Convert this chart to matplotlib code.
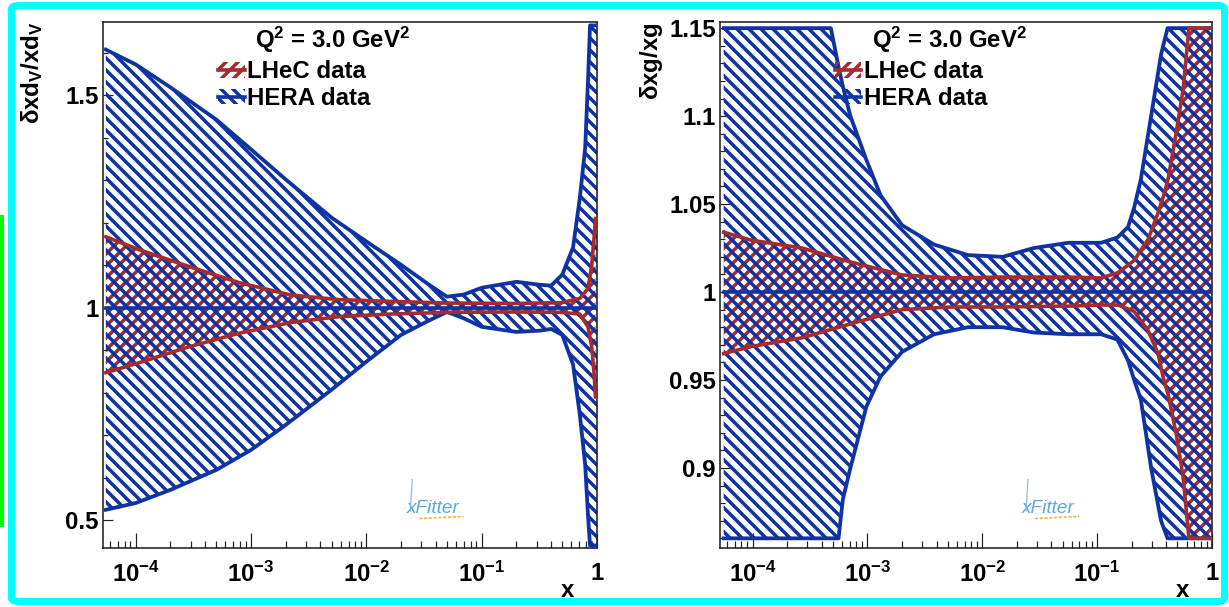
import numpy as np
import matplotlib
matplotlib.use("Agg")
import matplotlib.pyplot as plt
from matplotlib.patches import Patch, Rectangle, FancyBboxPatch
from matplotlib.lines import Line2D
from matplotlib.ticker import FixedLocator, FuncFormatter, MultipleLocator, NullFormatter, LogLocator

# ---------------------------------------------------------------- data
# valence d-quark relative uncertainty band, HERA fit
dv_x_hera = [5.5e-5, 1e-4, 2e-4, 5e-4, 1e-3, 2e-3, 5e-3, 1e-2, 2e-2, 3.5e-2, 5e-2,
             7e-2, 0.1, 0.2, 0.32, 0.4, 0.5, 0.62, 0.71, 0.79, 0.835, 0.87, 1.0]
dv_hera_up = [1.608, 1.573, 1.519, 1.443, 1.373, 1.302, 1.212, 1.156, 1.101, 1.054, 1.026,
              1.031, 1.047, 1.061, 1.054, 1.052, 1.078, 1.142, 1.259, 1.377, 1.533, 1.665, 1.665]
dv_hera_lo = [0.524, 0.540, 0.571, 0.618, 0.665, 0.724, 0.807, 0.873, 0.936, 0.970, 0.990,
              0.975, 0.955, 0.943, 0.946, 0.950, 0.936, 0.866, 0.748, 0.630, 0.512, 0.440, 0.440]

# valence d-quark relative uncertainty band, LHeC fit
dv_x_lhec = [5.5e-5, 1.06e-4, 2.9e-4, 7.9e-4, 2.2e-3, 5.8e-3, 1.6e-2, 5e-2, 0.2, 0.5,
             0.71, 0.835, 0.9, 0.94, 0.97]
dv_lhec_up = [1.167, 1.137, 1.097, 1.059, 1.030, 1.019, 1.015, 1.011, 1.010, 1.012,
              1.022, 1.045, 1.100, 1.160, 1.210]
dv_lhec_lo = [0.847, 0.870, 0.908, 0.940, 0.965, 0.979, 0.985, 0.989, 0.990, 0.989,
              0.985, 0.955, 0.908, 0.850, 0.790]

# gluon relative uncertainty band, HERA fit
g_x_hera = [5.6e-5, 4.8e-4, 5.6e-4, 6.1e-4, 7.1e-4, 9.8e-4, 1.3e-3, 2e-3, 3.8e-3, 7.5e-3,
            1.5e-2, 2.8e-2, 5.6e-2, 0.108, 0.15, 0.186, 0.21, 0.24, 0.295, 0.36, 0.41, 1.0]
g_hera_up = [1.150, 1.150, 1.128, 1.117, 1.100, 1.075, 1.055, 1.038, 1.027, 1.021,
             1.020, 1.025, 1.028, 1.028, 1.031, 1.037, 1.048, 1.064, 1.100, 1.135, 1.150, 1.150]
g_hera_lo = [0.860, 0.860, 0.860, 0.882, 0.900, 0.935, 0.952, 0.966, 0.976, 0.980,
             0.980, 0.977, 0.976, 0.976, 0.973, 0.961, 0.950, 0.939, 0.900, 0.870, 0.860, 0.860]

# gluon relative uncertainty band, LHeC fit
g_x_lhec = [5.6e-5, 9.7e-5, 2.7e-4, 7.2e-4, 2e-3, 5.4e-3, 1.46e-2, 5.6e-2, 0.108, 0.152,
            0.21, 0.278, 0.339, 0.38, 0.414, 0.486, 0.56, 0.63, 1.0]
g_lhec_up = [1.034, 1.0295, 1.025, 1.017, 1.0097, 1.008, 1.0085, 1.0085, 1.008, 1.011,
             1.018, 1.030, 1.045, 1.055, 1.064, 1.090, 1.115, 1.150, 1.150]
g_lhec_lo = [0.965, 0.969, 0.974, 0.982, 0.990, 0.9915, 0.9915, 0.992, 0.9926, 0.9926,
             0.989, 0.978, 0.965, 0.950, 0.942, 0.920, 0.895, 0.860, 0.860]

x_major = [1e-4, 1e-3, 1e-2, 1e-1, 1.0]
series_labels = ["LHeC data", "HERA data"]
q2_label = r"Q$^2$ = 3.0 GeV$^2$"

# ---------------------------------------------------------------- style
DPI = 144
W, H = 1229, 607
BLUE = "#0f33a2"
RED = "#a52b2d"
HATCH_BLUE = "\\\\\\\\"
HATCH_RED = "////"
FS = 12

plt.rcParams.update({
    "font.family": ["Liberation Sans", "DejaVu Sans"],
    "font.weight": "bold",
    "mathtext.fontset": "custom",
    "mathtext.rm": "Liberation Sans:bold",
    "mathtext.it": "Liberation Sans:bold",
    "mathtext.bf": "Liberation Sans:bold",
    "hatch.linewidth": 1.75,
    "axes.linewidth": 0.8,
    "axes.edgecolor": "#222222",
})

fig = plt.figure(figsize=(W / DPI, H / DPI), dpi=DPI)
fig.patch.set_facecolor("white")


def xfmt(v, _):
    if abs(v - 1.0) < 1e-9:
        return "1"
    return r"$10^{%d}$" % int(round(np.log10(v)))


def panel(ax, xh, uh, lh, xl, ul, ll, ylim, ymaj, ymin, ylabel, ylab_x):
    ax.set_xscale("log")
    ax.set_xlim(5.2e-5, 1.0)
    ax.set_ylim(*ylim)

    ax.fill_between(xl, ll, ul, facecolor="none", edgecolor=RED, hatch=HATCH_RED,
                    linewidth=0, zorder=1)
    ax.fill_between(xh, lh, uh, facecolor="none", edgecolor=BLUE, hatch=HATCH_BLUE,
                    linewidth=0, zorder=2)
    ax.plot(xh, uh, color=BLUE, lw=1.9, zorder=3, solid_joinstyle="round")
    ax.plot(xh, lh, color=BLUE, lw=1.9, zorder=3, solid_joinstyle="round")
    ax.plot(xl, ul, color=RED, lw=1.8, zorder=4, solid_joinstyle="round")
    ax.plot(xl, ll, color=RED, lw=1.8, zorder=4, solid_joinstyle="round")
    ax.plot([xh[0], 1.0], [1.0, 1.0], color=BLUE, lw=1.8, zorder=5)

    ax.xaxis.set_major_locator(FixedLocator(x_major))
    ax.xaxis.set_major_formatter(FuncFormatter(xfmt))
    ax.xaxis.set_minor_locator(LogLocator(base=10, subs=np.arange(2, 10)))
    ax.xaxis.set_minor_formatter(NullFormatter())
    ax.yaxis.set_major_locator(MultipleLocator(ymaj))
    ax.yaxis.set_minor_locator(MultipleLocator(ymin))
    ax.yaxis.set_major_formatter(FuncFormatter(lambda v, _: ("%g" % round(v, 3))))

    ax.tick_params(which="both", direction="in", top=False, right=False,
                   width=0.6, colors="#222222", labelsize=FS, labelcolor="black")
    ax.tick_params(axis="x", which="major", length=7.5, pad=7)
    ax.tick_params(axis="x", which="minor", length=3.5)
    ax.tick_params(axis="y", which="major", length=5, pad=2)
    ax.tick_params(axis="y", which="minor", length=2.5)

    ax.set_ylabel(ylabel, fontsize=FS, loc="top")
    ax.yaxis.set_label_coords(ylab_x, 1.0)
    ax.text(0.94, -0.08, "x", transform=ax.transAxes, fontsize=FS,
            ha="center", va="center")

    ax.text(0.308, 0.966, q2_label, transform=ax.transAxes, fontsize=FS,
            ha="left", va="center")

    handles = [
        (Patch(facecolor="none", edgecolor=RED, hatch=HATCH_RED, linewidth=0),
         Line2D([], [], color=RED, lw=1.8)),
        (Patch(facecolor="none", edgecolor=BLUE, hatch=HATCH_BLUE, linewidth=0),
         Line2D([], [], color=BLUE, lw=1.8)),
    ]
    ax.legend(handles, series_labels, loc="upper left",
              bbox_to_anchor=(0.233, 0.927), frameon=False, fontsize=FS,
              handlelength=1.1, handleheight=0.6, handletextpad=0.12,
              labelspacing=0.15, borderpad=0, borderaxespad=0)

    # xFitter logo
    ax.text(0.668, 0.076, "xFitter", transform=ax.transAxes, fontsize=9.5,
            style="italic", weight="normal", color="#58a8dc", ha="center",
            va="center", zorder=6)
    ax.plot([0.64, 0.73], [0.056, 0.060], transform=ax.transAxes,
            color="#f2b437", lw=0.8, ls=(0, (2, 1)), zorder=6)
    ax.plot([0.622, 0.626], [0.07, 0.13], transform=ax.transAxes,
            color="#7fbde6", lw=0.6, zorder=6)


ax1 = fig.add_axes([103 / W, 59 / H, 494 / W, 526 / H])
ax2 = fig.add_axes([720 / W, 59 / H, 492 / W, 526 / H])

panel(ax1, dv_x_hera, dv_hera_up, dv_hera_lo, dv_x_lhec, dv_lhec_up, dv_lhec_lo,
      (0.434, 1.673), 0.5, 0.1, r"$\delta xd_V/xd_V$", -0.118)
panel(ax2, g_x_hera, g_hera_up, g_hera_lo, g_x_lhec, g_lhec_up, g_lhec_lo,
      (0.8545, 1.1535), 0.05, 0.01, r"$\delta xg/xg$", -0.112)

# outer frame
fig.patches.append(FancyBboxPatch((11.5 / W, 5.5 / H), (1224.5 - 11.5) / W, (601.5 - 5.5) / H,
                                  boxstyle="round,pad=0,rounding_size=0.006",
                                  transform=fig.transFigure, fill=False,
                                  edgecolor="#00ffff", linewidth=3.5, zorder=10))
fig.patches.append(Rectangle((0, (607 - 527) / H), 3.5 / W, (527 - 215) / H,
                             transform=fig.transFigure, facecolor="#00ff00",
                             edgecolor="none", zorder=10))

fig.savefig("out.png", dpi=DPI)
